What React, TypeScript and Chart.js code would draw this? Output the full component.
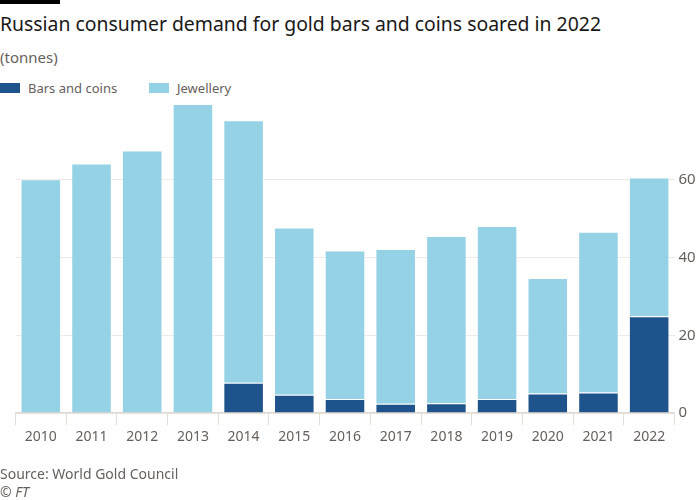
import React, { useEffect, useRef } from "react";
import { Chart, registerables } from "chart.js";

Chart.register(...registerables);

const years = ["2010","2011","2012","2013","2014","2015","2016","2017","2018","2019","2020","2021","2022"];
const barsAndCoins = [0, 0, 0, 0, 7.8, 4.7, 3.6, 2.4, 2.5, 3.6, 5.0, 5.3, 24.9];
const jewellery = [60.1, 64.2, 67.5, 79.5, 67.5, 43.0, 38.2, 39.8, 43.0, 44.5, 29.7, 41.3, 35.7];
const yTicks = [0, 20, 40, 60];

const FONT = "'Noto Sans', sans-serif";
const GREY = "#66605c";

export default function App() {
  const ref = useRef<HTMLCanvasElement | null>(null);

  useEffect(() => {
    document.body.style.margin = "0";
    const ctx = ref.current!.getContext("2d")!;
    const chart = new Chart(ctx, {
      type: "bar",
      data: {
        labels: years,
        datasets: [
          {
            label: "Bars and coins",
            data: barsAndCoins,
            backgroundColor: "#1f538b",
            borderColor: "rgba(255,255,255,0.25)",
            borderWidth: 1,
            barPercentage: 0.8,
            categoryPercentage: 1,
          },
          {
            label: "Jewellery",
            data: jewellery,
            backgroundColor: "#96d2e5",
            borderColor: "rgba(255,255,255,0.35)",
            borderWidth: 1,
            barPercentage: 0.8,
            categoryPercentage: 1,
          },
        ],
      },
      options: {
        animation: false,
        responsive: false,
        maintainAspectRatio: false,
        layout: { padding: { left: 15.5, right: 0, top: 102, bottom: 47 } },
        plugins: { legend: { display: false }, tooltip: { enabled: false } },
        scales: {
          x: {
            stacked: true,
            grid: { drawOnChartArea: false, drawTicks: true, tickLength: 12, color: "#e6dfd9" },
            border: { color: "#e0d8d2", width: 1.5 },
            ticks: { color: GREY, font: { family: FONT, size: 14 }, padding: 4, maxRotation: 0 },
            afterFit: (s: any) => { s.height = 40; },
          },
          y: {
            stacked: true,
            position: "right",
            min: 0,
            max: 80,
            afterBuildTicks: (s: any) => { s.ticks = [...yTicks, 80].map((v) => ({ value: v })); },
            grid: {
              drawTicks: false,
              color: (c: any) => (c.tick && c.tick.value === 80 ? "rgba(0,0,0,0)" : "#f0e9e4"),
            },
            border: { display: false },
            ticks: {
              color: GREY,
              font: { family: FONT, size: 15 },
              padding: 4,
              callback: (v: any) => (v === 80 ? "" : String(v)),
            },
            afterFit: (s: any) => { s.width = 25.5; },
          },
        },
      },
    });
    return () => chart.destroy();
  }, []);

  const text: React.CSSProperties = { position: "absolute", fontFamily: FONT, margin: 0, whiteSpace: "nowrap" };

  return (
    <div style={{ position: "fixed", left: 0, top: 0, width: 700, height: 500, background: "#fff", overflow: "hidden" }}>
      <div style={{ position: "absolute", left: 0, top: 0, width: 60, height: 4, background: "#000" }} />
      <div style={{ ...text, left: 0, top: 10, fontSize: 19.4, color: "#1a1817" }}>
        Russian consumer demand for gold bars and coins soared in 2022
      </div>
      <div style={{ ...text, left: 0, top: 47, fontSize: 15, color: GREY }}>(tonnes)</div>
      <div style={{ position: "absolute", left: 0, top: 83, width: 20, height: 10, background: "#1f538b" }} />
      <div style={{ ...text, left: 28, top: 79, fontSize: 13, color: GREY }}>Bars and coins</div>
      <div style={{ position: "absolute", left: 149, top: 83, width: 20, height: 10, background: "#96d2e5" }} />
      <div style={{ ...text, left: 177, top: 79, fontSize: 13, color: GREY }}>Jewellery</div>
      <canvas ref={ref} width={700} height={500} style={{ position: "absolute", left: 0, top: 0, width: 700, height: 500 }} />
      <div style={{ ...text, left: 0, top: 464, fontSize: 14, color: GREY }}>Source: World Gold Council</div>
      <div style={{ ...text, left: 0, top: 482, fontSize: 14, color: GREY, fontStyle: "italic" }}>© FT</div>
    </div>
  );
}
